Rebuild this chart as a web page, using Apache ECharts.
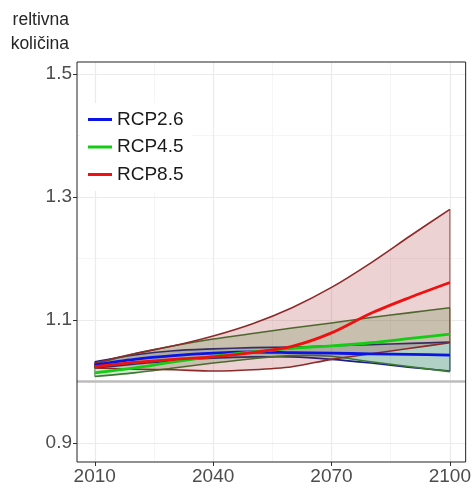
<!DOCTYPE html>
<html>
<head>
<meta charset="utf-8">
<script src="https://cdn.jsdelivr.net/npm/echarts@6/dist/echarts.min.js"></script>
<style>html,body{margin:0;padding:0;background:#fff}#c{width:474px;height:488px}</style>
</head>
<body>
<div id="c"></div>
<script>
const years = [2010, 2020, 2030, 2040, 2050, 2060, 2070, 2080, 2090, 2100];
const rcp26Mean  = [1.027, 1.036, 1.042, 1.046, 1.048, 1.047, 1.046, 1.045, 1.044, 1.043];
const rcp26Lower = [1.022, 1.028, 1.034, 1.038, 1.040, 1.040, 1.036, 1.030, 1.023, 1.017];
const rcp26Upper = [1.032, 1.043, 1.050, 1.053, 1.055, 1.056, 1.058, 1.060, 1.062, 1.064];
const rcp45Mean  = [1.014, 1.022, 1.032, 1.041, 1.048, 1.054, 1.058, 1.063, 1.070, 1.077];
const rcp45Lower = [1.008, 1.014, 1.022, 1.030, 1.037, 1.042, 1.041, 1.032, 1.024, 1.016];
const rcp45Upper = [1.028, 1.045, 1.058, 1.069, 1.078, 1.087, 1.095, 1.104, 1.112, 1.120];
const rcp85Mean  = [1.024, 1.031, 1.036, 1.040, 1.047, 1.057, 1.079, 1.111, 1.137, 1.161];
const rcp85Lower = [1.022, 1.020, 1.019, 1.017, 1.019, 1.024, 1.036, 1.045, 1.054, 1.063];
const rcp85Upper = [1.030, 1.045, 1.058, 1.074, 1.094, 1.120, 1.153, 1.193, 1.237, 1.280];
const xTicks = [2010, 2040, 2070, 2100];
const xMinor = [2025, 2055, 2085];
const yTicks = [0.9, 1.1, 1.3, 1.5];
const yMinor = [1.0, 1.2, 1.4];
const refLine = 1.0;
const seriesNames = ['RCP2.6', 'RCP4.5', 'RCP8.5'];
const yTitle = ['reltivna', 'količina'];

const chart = echarts.init(document.getElementById('c'), null, {renderer: 'canvas'});

function ribbon(lower, upper, fill, stroke, z) {
  return {
    type: 'custom', silent: true, z: z, clip: true,
    data: [[years[0], lower[0]]],
    renderItem: function (params, api) {
      const up = years.map((y, i) => api.coord([y, upper[i]]));
      const lo = years.map((y, i) => api.coord([y, lower[i]]));
      const poly = up.concat(lo.slice().reverse());
      return {type: 'group', children: [
        {type: 'polygon', shape: {points: poly, smooth: 0}, style: {fill: fill, stroke: null}},
        {type: 'polyline', shape: {points: up, smooth: 0.3}, style: {fill: null, stroke: stroke, lineWidth: 1.6}},
        {type: 'polyline', shape: {points: lo, smooth: 0.3}, style: {fill: null, stroke: stroke, lineWidth: 1.6}},
        {type: 'line', shape: {x1: up[0][0], y1: up[0][1], x2: lo[0][0], y2: lo[0][1]}, style: {stroke: stroke, lineWidth: 1.2, opacity: 0.7}},
        {type: 'line', shape: {x1: up[up.length-1][0], y1: up[up.length-1][1], x2: lo[lo.length-1][0], y2: lo[lo.length-1][1]}, style: {stroke: stroke, lineWidth: 1.2, opacity: 0.7}}
      ]};
    }
  };
}
function meanLine(name, vals, color, z) {
  return {
    type: 'line', name: name, z: z, symbol: 'none', showSymbol: false, smooth: 0.3, silent: true,
    legendIcon: 'rect',
    data: years.map((y, i) => [y, vals[i]]),
    lineStyle: {color: color, width: 2.8}, itemStyle: {color: color}
  };
}

const gridLines = [];
yMinor.forEach(v => gridLines.push({yAxis: v, lineStyle: {color: '#f2f2f2', width: 0.8, type: 'solid'}}));
xMinor.forEach(v => gridLines.push({xAxis: v, lineStyle: {color: '#f2f2f2', width: 0.8, type: 'solid'}}));
yTicks.forEach(v => gridLines.push({yAxis: v, lineStyle: {color: '#ebebeb', width: 1.2, type: 'solid'}}));
xTicks.forEach(v => gridLines.push({xAxis: v, lineStyle: {color: '#ebebeb', width: 1.2, type: 'solid'}}));

const option = {
  animation: false,
  backgroundColor: '#fff',
  grid: {left: 77, right: 4, top: 62, bottom: 26, show: true, borderColor: '#222', borderWidth: 1, backgroundColor: 'transparent', z: 40},
  xAxis: {
    type: 'value', min: 2005.5, max: 2104,
    axisLine: {show: false},
    splitLine: {show: false},
    axisTick: {show: true, length: 4, lineStyle: {color: '#333'}, customValues: xTicks},
    axisLabel: {customValues: xTicks, color: '#4d4d4d', fontSize: 19, fontFamily: 'Liberation Sans, Arial', margin: 5,
      formatter: v => String(v)}
  },
  yAxis: {
    type: 'value', min: 0.8691, max: 1.5195,
    axisLine: {show: false},
    splitLine: {show: false},
    axisTick: {show: true, length: 4, lineStyle: {color: '#333'}, customValues: yTicks},
    axisLabel: {customValues: yTicks, color: '#4d4d4d', fontSize: 19, fontFamily: 'Liberation Sans, Arial', margin: 5,
      formatter: v => v.toFixed(1)}
  },
  legend: {
    data: seriesNames.map(n => ({name: n, icon: 'rect'})), orient: 'vertical', left: 80, top: 103,
    backgroundColor: '#fff', padding: [7, 8, 7, 8], itemGap: 8.5,
    itemWidth: 24, itemHeight: 3, icon: 'rect', z: 50,
    textStyle: {fontSize: 19, color: '#1a1a1a', fontFamily: 'Liberation Sans, Arial', padding: [0, 0, 0, 0], lineHeight: 19}
  },
  graphic: [
    {type: 'text', right: 474 - 69, top: 11, style: {text: yTitle[0], font: '17.5px "Liberation Sans", Arial, sans-serif', fill: '#262626', align: 'right'}},
    {type: 'text', right: 474 - 69, top: 35, style: {text: yTitle[1], font: '17.5px "Liberation Sans", Arial, sans-serif', fill: '#262626', align: 'right'}}
  ],
  series: [
    {type: 'line', data: [], silent: true, z: 1,
      markLine: {silent: true, symbol: 'none', label: {show: false}, z: 1, data: gridLines}},
    {type: 'line', data: [], silent: true, z: 2,
      markLine: {silent: true, symbol: 'none', label: {show: false}, z: 2,
        data: [{yAxis: refLine, lineStyle: {color: '#bdbdbd', width: 2.6, type: 'solid'}}]}},
    ribbon(rcp26Lower, rcp26Upper, 'rgba(0,70,170,0.16)', '#1c1c8a', 20),
    ribbon(rcp45Lower, rcp45Upper, 'rgba(30,140,30,0.2)', '#3b7a33', 21),
    ribbon(rcp85Lower, rcp85Upper, 'rgba(160,30,30,0.2)', '#8c2a2a', 22),
    meanLine(seriesNames[0], rcp26Mean, '#0a14e6', 23),
    meanLine(seriesNames[1], rcp45Mean, '#14cc14', 24),
    meanLine(seriesNames[2], rcp85Mean, '#f01010', 25)
  ]
};
chart.setOption(option);
</script>
</body>
</html>
